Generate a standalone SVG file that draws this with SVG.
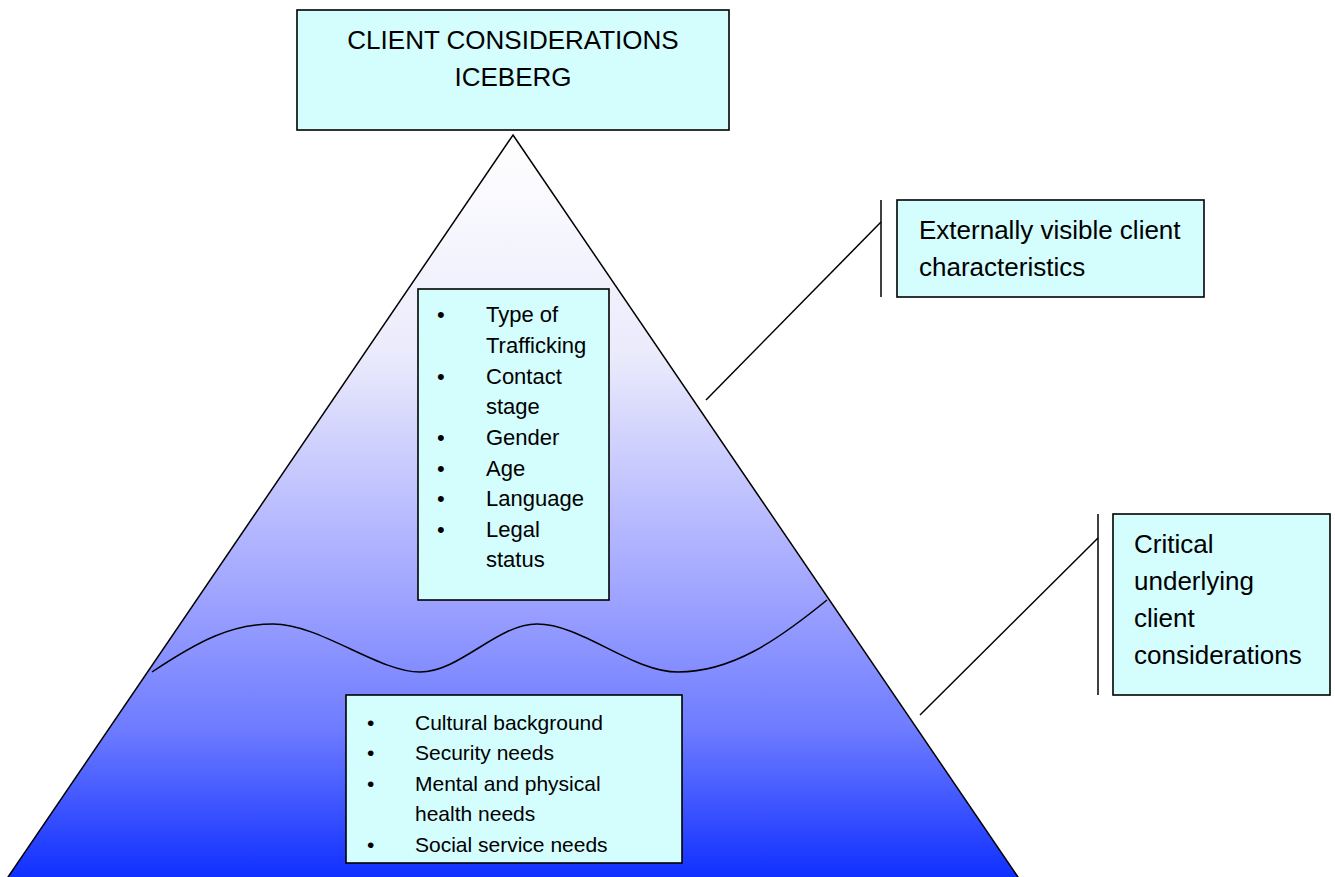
<svg xmlns="http://www.w3.org/2000/svg" width="1335" height="877" viewBox="0 0 1335 877">
<defs>
<linearGradient id="ice" gradientUnits="userSpaceOnUse" x1="0" y1="135" x2="0" y2="877">
<stop offset="0" stop-color="#ffffff"/>
<stop offset="0.3" stop-color="#eaeafc"/>
<stop offset="0.6" stop-color="#a4a8ff"/>
<stop offset="0.8" stop-color="#6e7cff"/>
<stop offset="1" stop-color="#1030ff"/>
</linearGradient>
<style>
.box{fill:#d4fdfd;stroke:#000;stroke-width:1.6}
.t{font-family:"Liberation Sans",Arial,sans-serif;fill:#000}
.big{font-size:26px}
.mid{font-size:22px}
.sm{font-size:21px}
.ln{stroke:#000;stroke-width:1.5;fill:none}
</style>
</defs>
<g id="iceberg">
<polygon points="513,135 1020,880 6,880" fill="url(#ice)" stroke="#000" stroke-width="1.5"/>
<path class="ln" d="M152,672 C200,640 232,624 273,624 C320,624 378,672 420,672 C460,672 497,624 537,624 C582,624 632,672 678,672 C732,672 778,640 827,600"/>
</g>
<g id="title">
<rect class="box" x="297" y="10" width="432" height="120"/>
<text class="t big" x="513" y="49" text-anchor="middle">CLIENT CONSIDERATIONS</text>
<text class="t big" x="513" y="86" text-anchor="middle">ICEBERG</text>
</g>
<g id="visible-list">
<rect class="box" x="418" y="289" width="191" height="311"/>
<g class="t mid">
<text x="437" y="322">•</text><text x="486" y="322">Type of</text>
<text x="486" y="353">Trafficking</text>
<text x="437" y="384">•</text><text x="486" y="384">Contact</text>
<text x="486" y="414">stage</text>
<text x="437" y="445">•</text><text x="486" y="445">Gender</text>
<text x="437" y="476">•</text><text x="486" y="476">Age</text>
<text x="437" y="506">•</text><text x="486" y="506">Language</text>
<text x="437" y="537">•</text><text x="486" y="537">Legal</text>
<text x="486" y="567">status</text>
</g>
</g>
<g id="underlying-list">
<rect class="box" x="346" y="695" width="336" height="168"/>
<g class="t sm">
<text x="367" y="730">•</text><text x="415" y="730">Cultural background</text>
<text x="367" y="760">•</text><text x="415" y="760">Security needs</text>
<text x="367" y="791">•</text><text x="415" y="791">Mental and physical</text>
<text x="415" y="821">health needs</text>
<text x="367" y="852">•</text><text x="415" y="852">Social service needs</text>
</g>
</g>
<g id="external-label">
<rect class="box" x="897" y="200" width="307" height="97"/>
<text class="t big" x="919" y="239">Externally visible client</text>
<text class="t big" x="919" y="276">characteristics</text>
</g>
<g id="critical-label">
<rect class="box" x="1113" y="514" width="217" height="181"/>
<text class="t big" x="1134" y="553">Critical</text>
<text class="t big" x="1134" y="590">underlying</text>
<text class="t big" x="1134" y="627">client</text>
<text class="t big" x="1134" y="664">considerations</text>
</g>
<g id="connectors">
<line class="ln" x1="881" y1="200" x2="881" y2="297"/>
<line class="ln" x1="881" y1="222" x2="706" y2="400"/>
<line class="ln" x1="1098" y1="514" x2="1098" y2="695"/>
<line class="ln" x1="1098" y1="538" x2="920" y2="715"/>
</g>
</svg>
